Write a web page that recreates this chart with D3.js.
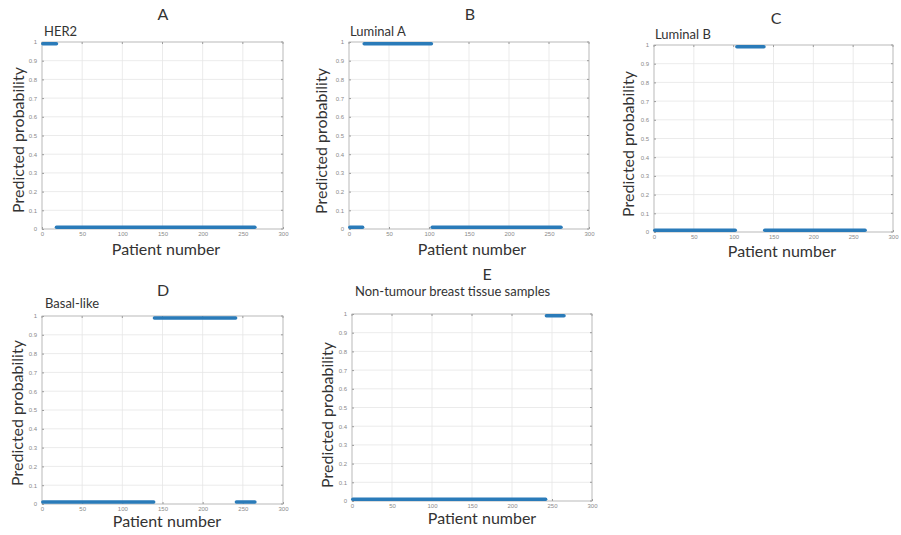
<!DOCTYPE html>
<html>
<head>
<meta charset="utf-8">
<script src="https://cdn.jsdelivr.net/npm/d3@7"></script>
<style>
  body { margin: 0; background: #fff; }
  svg { display: block; }
  .tick text { font-family: "Liberation Sans", Arial, sans-serif; fill: #8a8a8a; }
  .lbl { font-family: Lato, "Open Sans", sans-serif; fill: #333; }
</style>
</head>
<body>
<svg id="chart" width="901" height="535"></svg>
<script>
// panel letters and subtype names
var panelIds = ["A", "B", "C", "D", "E"];
var subtypeNames = ["HER2", "Luminal A", "Luminal B", "Basal-like", "Non-tumour breast tissue samples"];

// runs of patients with the same predicted probability: [first, last, probability]
var her2Runs = [[1, 18, 0.99], [18, 265, 0.01]];
var lumARuns = [[1, 17, 0.01], [19, 103, 0.99], [104, 265, 0.01]];
var lumBRuns = [[1, 102, 0.01], [104, 138, 0.99], [139, 265, 0.01]];
var basalRuns = [[1, 139, 0.01], [140, 241, 0.99], [242, 265, 0.01]];
var normalRuns = [[1, 242, 0.01], [243, 265, 0.99]];

var xTicks = [0, 50, 100, 150, 200, 250, 300];
var yTicks = [0, 0.1, 0.2, 0.3, 0.4, 0.5, 0.6, 0.7, 0.8, 0.9, 1];

var allRuns = [her2Runs, lumARuns, lumBRuns, basalRuns, normalRuns];

// plot boxes and text offsets for each panel
var layout = [
    {l: 42, r: 283, t: 42, b: 229, letterX: 163, letterY: 20, subX: 44, subY: 36, ylX: 24, ylY: 140, xlX: 166, xlY: 255},
    {l: 349, r: 589, t: 42, b: 229, letterX: 470, letterY: 20, subX: 350, subY: 36, ylX: 327, ylY: 141, xlX: 472, xlY: 255},
    {l: 654, r: 893, t: 45, b: 232, letterX: 776, letterY: 24, subX: 655, subY: 39, ylX: 634, ylY: 144, xlX: 782, xlY: 257},
    {l: 42, r: 283, t: 316, b: 504, letterX: 163, letterY: 296, subX: 45, subY: 308, ylX: 23, ylY: 413, xlX: 167, xlY: 527},
    {l: 352, r: 592, t: 314, b: 501, letterX: 487, letterY: 280, subX: 355, subY: 296, ylX: 333, ylY: 415, xlX: 482, xlY: 524}
];

var svg = d3.select("#chart");

panelIds.forEach(function (id, i) {
    var p = layout[i];
    var x = d3.scaleLinear().domain([0, 300]).range([p.l, p.r]);
    var y = d3.scaleLinear().domain([0, 1]).range([p.b, p.t]);
    var g = svg.append("g");

    // grid
    g.selectAll(".gx").data(xTicks.slice(1, -1)).enter().append("line")
        .attr("x1", x).attr("x2", x).attr("y1", p.t).attr("y2", p.b)
        .attr("stroke", "#e6e6e6").attr("stroke-width", 0.8);
    g.selectAll(".gy").data(yTicks.slice(1, -1)).enter().append("line")
        .attr("y1", y).attr("y2", y).attr("x1", p.l).attr("x2", p.r)
        .attr("stroke", "#e6e6e6").attr("stroke-width", 0.8);

    // axes
    var xa = g.append("g").attr("transform", "translate(0," + p.b + ")")
        .call(d3.axisBottom(x).tickValues(xTicks).tickSize(-2).tickPadding(3).tickFormat(d3.format("d")));
    var ya = g.append("g").attr("transform", "translate(" + p.l + ",0)")
        .call(d3.axisLeft(y).tickValues(yTicks).tickSize(-2).tickPadding(5).tickFormat(function (d) { return d === 0 || d === 1 ? d : d3.format(".1f")(d); }));
    [xa, ya].forEach(function (a) {
        a.select(".domain").remove();
        a.selectAll(".tick line").attr("stroke", "#9a9a9a");
        a.selectAll(".tick text").style("font-size", "6px");
    });
    // top and right ticks
    g.selectAll(".tt").data(xTicks).enter().append("line")
        .attr("x1", x).attr("x2", x).attr("y1", p.t).attr("y2", p.t + 2).attr("stroke", "#9a9a9a");
    g.selectAll(".rt").data(yTicks).enter().append("line")
        .attr("y1", y).attr("y2", y).attr("x1", p.r).attr("x2", p.r - 2).attr("stroke", "#9a9a9a");

    g.append("rect").attr("x", p.l).attr("y", p.t).attr("width", p.r - p.l).attr("height", p.b - p.t)
        .attr("fill", "none").attr("stroke", "#a8a8a8").attr("stroke-width", 0.8);

    // probability runs
    var line = d3.line().x(function (d) { return x(d[0]); }).y(function (d) { return y(d[1]); });
    g.selectAll(".run").data(allRuns[i]).enter().append("path")
        .attr("d", function (d) { return line([[d[0], d[2]], [d[1], d[2]]]); })
        .attr("stroke", "#2a7bb9").attr("stroke-width", 3.5).attr("stroke-linecap", "round")
        .attr("fill", "none");

    // texts
    g.append("text").attr("class", "lbl").attr("x", p.letterX).attr("y", p.letterY)
        .attr("text-anchor", "middle").style("font-size", "16px").text(id);
    g.append("text").attr("class", "lbl").attr("x", p.subX).attr("y", p.subY)
        .style("font-size", "13px").text(subtypeNames[i]);
    g.append("text").attr("class", "lbl").attr("text-anchor", "middle")
        .attr("transform", "translate(" + p.ylX + "," + p.ylY + ") rotate(-90)")
        .style("font-size", "16px").text("Predicted probability");
    g.append("text").attr("class", "lbl").attr("x", p.xlX).attr("y", p.xlY)
        .attr("text-anchor", "middle").style("font-size", "16px").text("Patient number");
});
</script>
</body>
</html>
